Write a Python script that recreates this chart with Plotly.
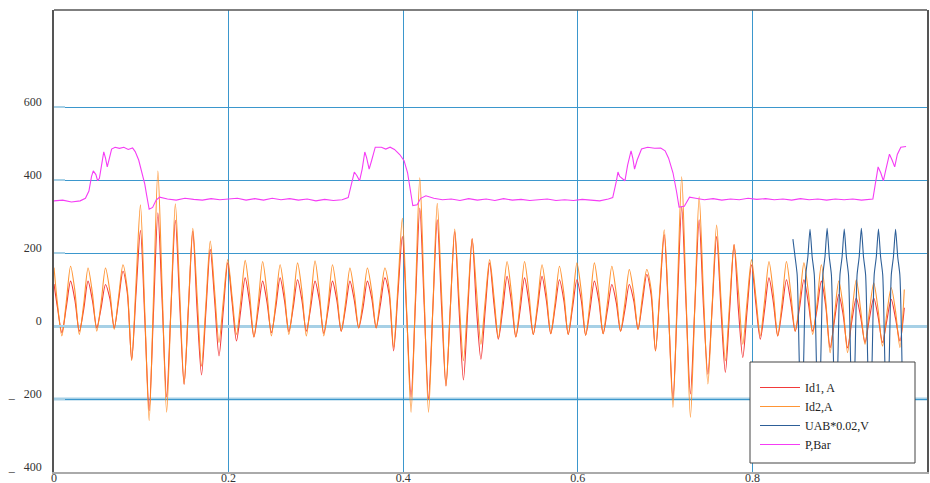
import numpy as np
import plotly.graph_objects as go

# ---------------- data ----------------
# current samples: t=0, then every 5 ms starting at 4 ms
# (mid-fall, trough, mid-rise, peak per 20 ms cycle)
t_current = np.concatenate([[0.0], 0.004 + 0.005 * np.arange(195)])

id2_A = [160, 60,
    -27, 65, 164, 95,   -23, 60, 159, 90,   -14, 65, 159, 95,   -9, 80, 168, 100,
    -95, 120, 332, 40,  -259, 80, 425, 95,  -236, 50, 335, 90,  -159, 55, 268, 80,
    -110, 60, 233, 95,  -45, 70, 182, 80,   -23, 70, 180, 90,   -30, 65, 177, 90,
    -27, 65, 168, 90,   -23, 65, 173, 95,   -27, 65, 179, 90,   -27, 60, 168, 90,
    -14, 65, 159, 90,   -5, 70, 159, 95,    -5, 80, 159, 100,   -59, 110, 295, 40,
    -236, 80, 406, 85,  -236, 50, 336, 85,  -164, 50, 266, 75,  -95, 70, 239, 95,
    -50, 70, 182, 80,   -32, 70, 177, 90,   -30, 65, 177, 90,   -23, 65, 168, 90,
    -21, 65, 164, 90,   -23, 65, 173, 95,   -25, 65, 173, 90,   -21, 65, 164, 90,
    -14, 65, 155, 90,   -9, 80, 155, 100,   -68, 100, 264, 40,  -223, 90, 409, 80,
    -250, 50, 355, 85,  -159, 60, 277, 75,  -95, 65, 223, 95,   -50, 70, 182, 80,
    -27, 70, 177, 90,   -27, 65, 177, 90,   -14, 65, 173, 95,   -23, 60, 168, 70,
    -73, 30, 123, 50,   -73, 35, 127, 45,   -50, 40, 118, 45,   -55, 35, 105, 40,
    -59, 100]

id1_A = [115, 50,
    -18, 50, 123, 70,   -14, 45, 123, 70,   -5, 50, 114, 75,    -5, 70, 150, 90,
    -92, 90, 262, 20,   -232, 40, 310, 60,  -195, 50, 290, 60,  -160, 50, 260, 40,
    -134, 40, 210, 70,  -82, 45, 173, 65,   -41, 45, 132, 65,   -30, 45, 123, 65,
    -18, 50, 132, 70,   -15, 50, 127, 70,   -14, 50, 123, 70,   -20, 45, 123, 70,
    -14, 50, 123, 70,   -5, 50, 123, 75,    -5, 60, 132, 85,    -68, 90, 245, 30,
    -195, 60, 323, 60,  -200, 50, 291, 50,  -164, 50, 259, 45,  -148, 45, 239, 45,
    -91, 45, 173, 60,   -36, 45, 136, 65,   -30, 45, 132, 65,   -23, 50, 136, 70,
    -21, 50, 127, 70,   -23, 50, 127, 70,   -25, 45, 123, 70,   -21, 45, 114, 65,
    -14, 45, 114, 70,   -9, 65, 141, 85,    -68, 90, 250, 30,   -200, 60, 327, 60,
    -186, 50, 291, 50,  -132, 55, 245, 45,  -127, 45, 223, 45,  -86, 45, 168, 60,
    -36, 45, 132, 65,   -27, 45, 127, 65,   -14, 50, 127, 65,   -14, 45, 123, 55,
    -59, 15, 86, 30,    -60, 15, 77, 25,    -45, 20, 77, 25,    -45, 15, 73, 20,
    -41, 50]

# UAB*0.02 samples every 2.45 ms from 0.8464 s
t_uab = 0.8464 + 0.00245 * np.arange(52)
uab_V = [238, 190, 140, -100, -265, -100, 140, 190,
         265, 190, 140, -100, -265, -100, 140, 190,
         268, 190, 140, -100, -265, -100, 140, 190,
         266, 190, 140, -100, -265, -100, 140, 190,
         268, 190, 140, -100, -265, -100, 140, 190,
         266, 190, 140, -100, -265, -100, 140, 190,
         265, 190, 140, -100]

t_p = [0.000, 0.010, 0.020, 0.030, 0.036, 0.040, 0.043, 0.045, 0.048, 0.050,
       0.052, 0.055, 0.057, 0.059, 0.061, 0.063, 0.066, 0.070, 0.075, 0.080,
       0.085, 0.090, 0.093, 0.097, 0.101, 0.104, 0.106, 0.109, 0.113, 0.117,
       0.121, 0.130, 0.140, 0.150, 0.160, 0.170, 0.180, 0.190, 0.200, 0.210,
       0.220, 0.230, 0.240, 0.250, 0.260, 0.270, 0.280, 0.290, 0.300, 0.310,
       0.320, 0.330, 0.337, 0.341, 0.344, 0.347, 0.350, 0.353, 0.356, 0.358,
       0.361, 0.364, 0.368, 0.375, 0.380, 0.385, 0.390, 0.396, 0.401, 0.405,
       0.408, 0.411, 0.416, 0.420, 0.426, 0.435, 0.445, 0.455, 0.465, 0.475,
       0.485, 0.495, 0.505, 0.515, 0.525, 0.535, 0.545, 0.555, 0.565, 0.575,
       0.585, 0.595, 0.605, 0.615, 0.625, 0.635, 0.640, 0.644, 0.646, 0.648,
       0.654, 0.657, 0.661, 0.663, 0.665, 0.668, 0.673, 0.680, 0.688, 0.695,
       0.700, 0.704, 0.709, 0.713, 0.716, 0.722, 0.728, 0.735, 0.745, 0.755,
       0.765, 0.775, 0.785, 0.795, 0.805, 0.815, 0.825, 0.835, 0.845, 0.855,
       0.865, 0.875, 0.885, 0.895, 0.905, 0.915, 0.925, 0.938, 0.941, 0.944,
       0.947, 0.950, 0.953, 0.957, 0.960, 0.963, 0.966, 0.970, 0.976]
p_bar = [343, 345, 340, 343, 350, 370, 410, 425, 415, 398,
         405, 455, 477, 460, 436, 455, 485, 490, 487, 490,
         484, 488, 478, 455, 420, 389, 360, 320, 325, 345,
         353, 348, 345, 350, 347, 345, 349, 346, 348, 350,
         345, 349, 345, 350, 346, 349, 345, 348, 343, 347,
         344, 346, 352, 390, 422, 412, 398, 430, 477, 462,
         430, 455, 490, 490, 485, 490, 484, 470, 453, 420,
         380, 330, 332, 350, 357, 350, 346, 348, 344, 349,
         345, 348, 344, 349, 345, 347, 344, 345, 348, 344,
         346, 344, 347, 345, 343, 348, 352, 395, 422, 410,
         398, 440, 480, 460, 430, 455, 485, 490, 487, 488,
         480, 460, 420, 370, 326, 328, 353, 350, 346, 349,
         345, 348, 346, 350, 347, 349, 346, 348, 345, 349,
         346, 348, 345, 348, 346, 348, 345, 348, 390, 436,
         420, 398, 430, 471, 455, 436, 470, 490, 492]

y_tickvals = [-400, -200, 0, 200, 400, 600]
y_ticktext = ["_\u00a0\u00a0\u00a0400", "_\u00a0\u00a0\u00a0200", "0", "200", "400", "600"]
x_tickvals = [0, 0.2, 0.4, 0.6, 0.8]
x_ticktext = ["0", "0.2", "0.4", "0.6", "0.8"]

# ---------------- figure ----------------
SERIF = "Liberation Serif, Times New Roman, serif"
GRID = "#3b97cd"
LIGHT = "#a6d0e6"

fig = go.Figure()
fig.add_trace(go.Scatter(x=t_current, y=id1_A, mode="lines", name="Id1, A",
                         line=dict(color="#f23a3a", width=1.1, shape="spline", smoothing=0.8)))
fig.add_trace(go.Scatter(x=t_current, y=id2_A, mode="lines", name="Id2,A",
                         line=dict(color="#ff8a1f", width=1.1, shape="spline", smoothing=0.8),
                         opacity=0.9))
fig.add_trace(go.Scatter(x=t_uab, y=uab_V, mode="lines", name="UAB*0.02,V",
                         line=dict(color="#2d5f98", width=1.1, shape="spline", smoothing=0.6)))
fig.add_trace(go.Scatter(x=t_p, y=p_bar, mode="lines", name="P,Bar",
                         line=dict(color="#f53cf5", width=1.1)))

fig.update_layout(
    width=930, height=483,
    margin=dict(l=54, r=3, t=10, b=11),
    paper_bgcolor="white", plot_bgcolor="white",
    font=dict(family=SERIF, size=12, color="#333"),
    showlegend=True,
    legend=dict(x=(755 - 54) / 873, y=(472 - 373) / 462, xanchor="left", yanchor="top",
                bgcolor="rgba(0,0,0,0)", borderwidth=0,
                font=dict(family=SERIF, size=12, color="#222"),
                tracegroupgap=0, itemwidth=40),
    xaxis=dict(range=[0, 1.0], tickvals=x_tickvals, ticktext=x_ticktext,
               showgrid=True, gridcolor=GRID, gridwidth=1, zeroline=False,
               showline=True, linecolor="#aaaaaa", linewidth=2,
               ticks="", ticklabelstandoff=-6,
               automargin=False, tickfont=dict(family=SERIF, size=12, color="#333")),
    yaxis=dict(range=[-400, 866], tickvals=y_tickvals, ticktext=y_ticktext,
               showgrid=True, gridcolor=GRID, gridwidth=1,
               zeroline=True, zerolinecolor=LIGHT, zerolinewidth=3,
               showline=True, linecolor="#555555", linewidth=1.5, mirror=True,
               ticks="inside", ticklen=11, tickcolor=LIGHT, tickwidth=2,
               ticklabelshift=-5, ticklabelstandoff=8,
               automargin=False, tickfont=dict(family=SERIF, size=12, color="#333")),
    shapes=[
        dict(type="line", xref="paper", yref="y", x0=0, x1=1, y0=-200, y1=-200,
             line=dict(color=LIGHT, width=3), layer="below"),
        dict(type="line", xref="paper", yref="paper", x0=0, x1=1, y0=1, y1=1,
             line=dict(color="#555555", width=1.5)),
        dict(type="rect", xref="paper", yref="paper",
             x0=(750 - 54) / 873, x1=(915 - 54) / 873,
             y0=(472 - 463) / 462, y1=(472 - 362) / 462,
             line=dict(color="#444444", width=1), fillcolor="white", layer="above"),
    ],
)

fig.write_html("out.html", config={"displayModeBar": False},
               post_script="document.body.style.margin='0';document.body.style.overflow='hidden';")
